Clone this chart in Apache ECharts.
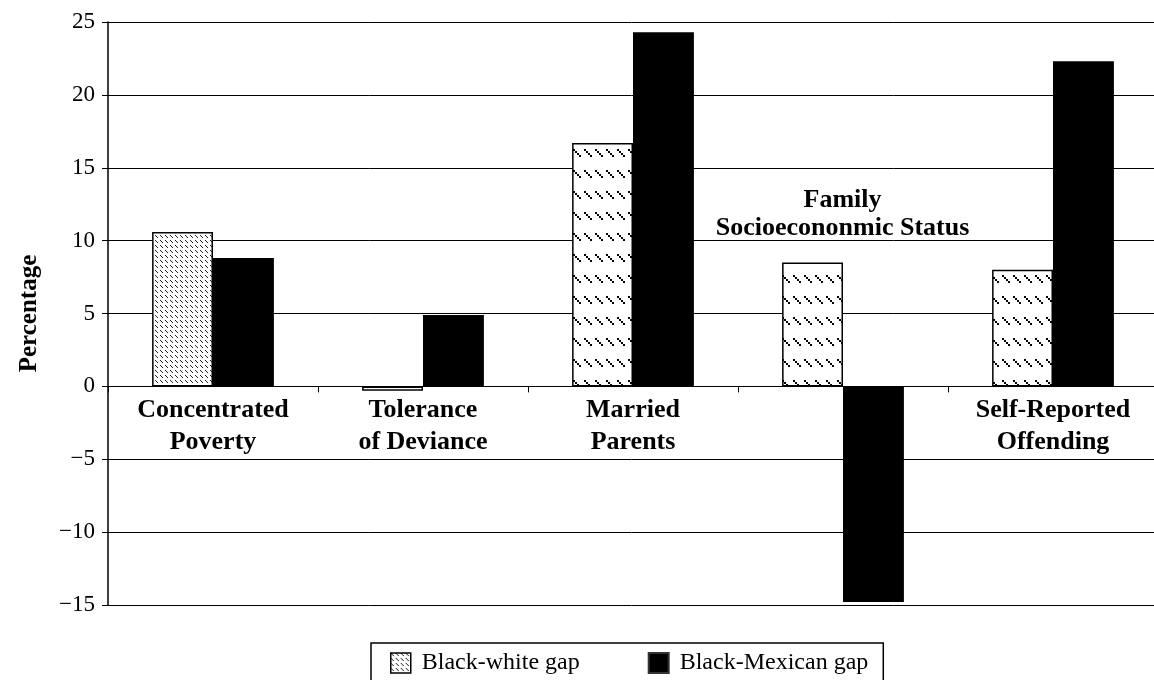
<!DOCTYPE html>
<html>
<head>
<meta charset="utf-8">
<script src="https://cdn.jsdelivr.net/npm/echarts@6/dist/echarts.min.js"></script>
<style>
html,body{margin:0;padding:0;background:#fff;}
#chart{width:1154px;height:680px;}
</style>
</head>
<body>
<div id="chart"></div>
<script>
// ---- data ----
const categories = ['Concentrated\nPoverty', 'Tolerance\nof Deviance', 'Married\nParents', 'Family\nSocioecononmic Status', 'Self-Reported\nOffending'];
const blackWhiteGap = [10.6, -0.3, 16.7, 8.5, 8.0];
const blackMexicanGap = [8.8, 4.9, 24.3, -14.8, 22.3];
const yTicks = { min: -15, max: 25, interval: 5 };
const seriesNames = ['Black-white gap', 'Black-Mexican gap'];
// category whose label sits above the bars instead of on the axis
const raisedLabelIndex = 3;

// ---- patterns ----
function makeSparse() {
  const c = document.createElement('canvas');
  c.width = 11; c.height = 21;
  const g = c.getContext('2d');
  g.fillStyle = '#fff'; g.fillRect(0, 0, 11, 21);
  g.fillStyle = '#000';
  for (let k = 0; k < 4; k++) g.fillRect(1 + k * 2, 2 + k * 2, 2, 2);
  return c;
}
function makeDense() {
  const c = document.createElement('canvas');
  c.width = 5; c.height = 5;
  const g = c.getContext('2d');
  g.fillStyle = '#fff'; g.fillRect(0, 0, 5, 5);
  g.fillStyle = '#222';
  g.fillRect(0, 0, 1, 1); g.fillRect(1, 1, 1, 1); g.fillRect(2, 2, 1, 1);
  return c;
}
const sparseFill = { image: makeSparse(), repeat: 'repeat' };
const denseFill = { image: makeDense(), repeat: 'repeat' };

const FONT = '"Liberation Serif", "DejaVu Serif", serif';

const bwData = blackWhiteGap.map((v, i) => {
  const item = { value: v, itemStyle: { color: i === 0 ? denseFill : sparseFill } };
  if (i === raisedLabelIndex) {
    item.label = {
      show: true, position: 'top', offset: [30, -15],
      formatter: () => categories[i],
      fontFamily: FONT, fontWeight: 'bold', fontSize: 26, lineHeight: 28, color: '#000', align: 'center'
    };
  }
  return item;
});

const GRID = { left: 108, right: -4, top: 22, bottom: 75 };

const chart = echarts.init(document.getElementById('chart'), null, { renderer: 'canvas' });
const option = {
  backgroundColor: '#fff',
  animation: false,
  textStyle: { fontFamily: FONT, color: '#000' },
  grid: Object.assign({ containLabel: false, outerBoundsMode: 'none' }, GRID),
  legend: {
    left: 371, top: 643,
    padding: [8, 15, 8, 19],
    borderColor: '#000', borderWidth: 1.5,
    itemWidth: 20, itemHeight: 20, itemGap: 68,
    textStyle: { fontFamily: FONT, fontSize: 24, color: '#000', padding: [0, 0, 0, 6] },
    data: [
      { name: seriesNames[0], icon: 'rect', itemStyle: { color: denseFill, borderColor: '#000', borderWidth: 1.5 } },
      { name: seriesNames[1], icon: 'rect', itemStyle: { color: '#000', borderColor: '#333', borderWidth: 2 } }
    ]
  },
  xAxis: {
    type: 'category',
    data: categories,
    axisLine: { show: true, onZero: false, lineStyle: { color: '#000', width: 1 } },
    axisTick: { show: true, length: 6, lineStyle: { color: '#000' } },
    axisLabel: {
      interval: 0, margin: 8,
      fontFamily: FONT, fontWeight: 'bold', fontSize: 26, lineHeight: 32, color: '#000',
      formatter: (v, i) => i === raisedLabelIndex ? '' : v
    },
    splitLine: { show: false }
  },
  yAxis: {
    type: 'value',
    min: yTicks.min, max: yTicks.max, interval: yTicks.interval,
    name: 'Percentage', nameLocation: 'middle', nameGap: 66, nameRotate: 90,
    nameTextStyle: { fontFamily: FONT, fontWeight: 'bold', fontSize: 25, color: '#000' },
    axisLine: { show: true, lineStyle: { color: '#000', width: 1.5 } },
    axisTick: { show: true, length: 6, lineStyle: { color: '#000' } },
    axisLabel: {
      margin: 13, fontFamily: FONT, fontSize: 23, color: '#000',
      formatter: v => String(v).replace('-', '\u2212')
    },
    splitLine: { show: true, lineStyle: { color: '#000', width: 1 } }
  },
  series: [
    {
      name: seriesNames[0], type: 'bar', data: bwData,
      barWidth: '29%', barGap: '0%',
      itemStyle: { color: sparseFill, borderColor: '#000', borderWidth: 1.5 }
    },
    {
      name: seriesNames[1], type: 'bar', data: blackMexicanGap,
      barWidth: '29%', barGap: '0%',
      itemStyle: { color: '#000' }
    }
  ]
};
chart.setOption(option);
// move the category axis up onto the zero line (offset from the grid bottom)
const zeroY = chart.convertToPixel({ yAxisIndex: 0 }, 0);
const bottomY = chart.getHeight() - GRID.bottom;
chart.setOption({ xAxis: { offset: -(bottomY - zeroY) } });
</script>
</body>
</html>
